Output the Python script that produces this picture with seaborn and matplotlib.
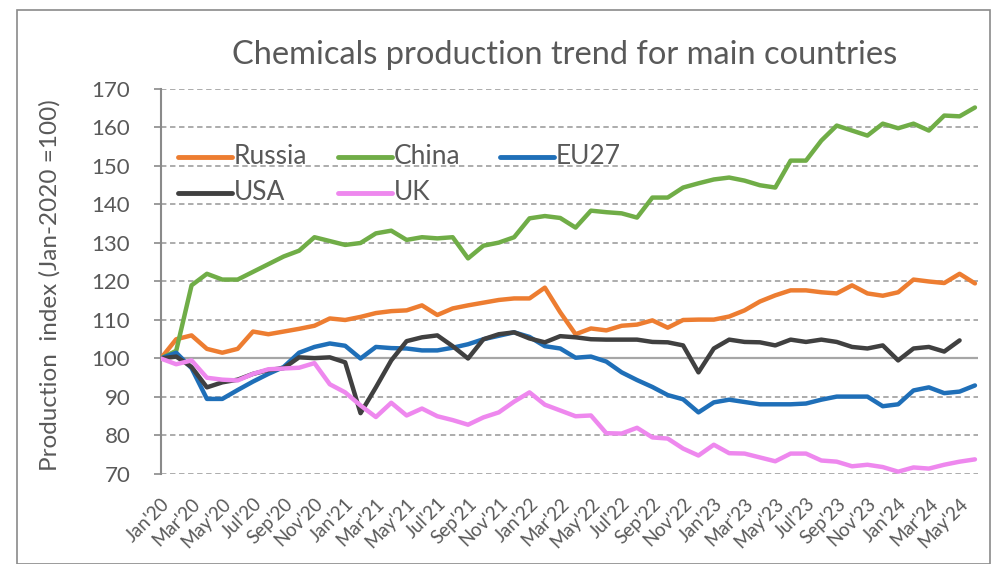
import numpy as np
import pandas as pd
import matplotlib
matplotlib.use("Agg")
import matplotlib.pyplot as plt
import seaborn as sns
from matplotlib.lines import Line2D
from matplotlib.patches import Rectangle

months = ["Jan'20","Feb'20","Mar'20","Apr'20","May'20","Jun'20","Jul'20","Aug'20","Sep'20","Oct'20","Nov'20","Dec'20",
          "Jan'21","Feb'21","Mar'21","Apr'21","May'21","Jun'21","Jul'21","Aug'21","Sep'21","Oct'21","Nov'21","Dec'21",
          "Jan'22","Feb'22","Mar'22","Apr'22","May'22","Jun'22","Jul'22","Aug'22","Sep'22","Oct'22","Nov'22","Dec'22",
          "Jan'23","Feb'23","Mar'23","Apr'23","May'23","Jun'23","Jul'23","Aug'23","Sep'23","Oct'23","Nov'23","Dec'23",
          "Jan'24","Feb'24","Mar'24","Apr'24","May'24","Jun'24"]

russia = [100, 105, 106, 102.5, 101.5, 102.5, 107, 106.3, 107, 107.7, 108.5, 110.4,
          110, 110.8, 111.8, 112.3, 112.5, 113.8, 111.3, 113, 113.8, 114.5, 115.2, 115.6,
          115.6, 118.4, 112, 106.3, 107.8, 107.3, 108.5, 108.8, 109.9, 108, 110, 110.1,
          110.1, 110.9, 112.5, 114.8, 116.4, 117.7, 117.7, 117.2, 116.9, 119, 116.9, 116.3,
          117.2, 120.5, 120, 119.6, 122, 119.5]
china = [100, 102, 119, 122, 120.5, 120.5, 122.5, 124.5, 126.5, 128, 131.5, 130.5,
         129.5, 130, 132.5, 133.2, 130.8, 131.5, 131.2, 131.5, 126, 129.3, 130.1, 131.5,
         136.4, 137, 136.5, 134, 138.4, 138, 137.7, 136.6, 141.8, 141.8, 144.4, 145.5,
         146.5, 147, 146.2, 145, 144.4, 151.4, 151.4, 156.6, 160.5, 159.2, 157.9, 161,
         159.8, 161, 159.2, 163.1, 162.9, 165.2]
eu27 = [100, 101.5, 97.5, 89.5, 89.5, 91.8, 94, 96, 97.8, 101.5, 103, 103.9,
        103.3, 100, 103, 102.7, 102.6, 102.1, 102.1, 102.8, 103.7, 105, 105.9, 106.8,
        105.6, 103.2, 102.6, 100.2, 100.5, 99.2, 96.4, 94.4, 92.6, 90.5, 89.4, 86,
        88.6, 89.3, 88.7, 88.1, 88.1, 88.1, 88.3, 89.3, 90.1, 90.1, 90.1, 87.6,
        88.1, 91.7, 92.5, 91, 91.4, 93]
usa = [100, 100.5, 97.8, 92.5, 93.8, 94.5, 96, 97, 97.5, 100.3, 100.1, 100.3,
       99, 85.8, 92.5, 99.5, 104.5, 105.5, 106, 103.2, 100, 105, 106.3, 106.8,
       105.2, 104.2, 105.8, 105.5, 105, 104.9, 104.9, 104.9, 104.3, 104.2, 103.4, 96.4,
       102.6, 104.9, 104.3, 104.2, 103.4, 104.9, 104.3, 104.9, 104.3, 103, 102.6, 103.4,
       99.5, 102.6, 103, 101.8, 104.7, np.nan]
uk = [100, 98.5, 99.5, 95, 94.5, 94.3, 96, 97.2, 97.4, 97.6, 98.8, 93.3,
      91.2, 87.8, 84.8, 88.5, 85.2, 87, 85, 84, 82.8, 84.7, 86, 88.8,
      91.2, 88, 86.5, 85, 85.2, 80.6, 80.5, 82, 79.5, 79.2, 76.6, 74.8,
      77.6, 75.4, 75.3, 74.3, 73.3, 75.3, 75.3, 73.5, 73.2, 72, 72.4, 71.8,
      70.6, 71.7, 71.4, 72.4, 73.2, 73.8]

countries = ["Russia", "China", "EU27", "USA", "UK"]
series = [russia, china, eu27, usa, uk]
colors = {"Russia": "#ED7D31", "China": "#70AD47", "EU27": "#1F6FB8",
          "USA": "#404040", "UK": "#EE88EE"}

rows = []
for name, vals in zip(countries, series):
    for i, v in enumerate(vals):
        rows.append({"idx": i, "value": v, "country": name})
df = pd.DataFrame(rows)

sns.set_style("white")
plt.rcParams["font.family"] = ["Lato", "DejaVu Sans"]
txt = "#595959"

W, H = 999, 564
fig = plt.figure(figsize=(W/100, H/100), dpi=100)
fig.patches.append(Rectangle((17/W, 0), (990-17)/W, 1-10/H, transform=fig.transFigure,
                             fill=False, edgecolor="#8a8a8a", linewidth=1.2))
ax = fig.add_axes([0.161, 0.1596, 0.818, 0.6826])

# gridlines
for yv in range(70, 180, 10):
    if yv == 100:
        ax.axhline(yv, color="#a6a6a6", lw=1.6, zorder=0)
    else:
        ax.axhline(yv, color="#a6a6a6", lw=1.3, ls=(0, (3, 2)), zorder=0)

sns.lineplot(data=df, x="idx", y="value", hue="country", hue_order=countries,
             palette=colors, linewidth=3.2, legend=False, ax=ax, zorder=3)

ax.set_xlim(0, 53.2)
ax.set_ylim(70, 170)
ax.set_yticks(range(70, 171, 10))
ax.set_yticklabels([str(v) for v in range(70, 171, 10)], fontsize=16, color=txt)
ticks = list(range(0, 53, 2))
ax.set_xticks(ticks)
ax.set_xticklabels([months[i] for i in ticks], rotation=45, ha="right",
                   rotation_mode="anchor", fontsize=13.5, color=txt)
ax.tick_params(axis="x", length=0, pad=15)
ax.tick_params(axis="y", length=5, width=1.2, color="#8a8a8a", direction="out", pad=17, left=True)
for s in ["top", "right", "bottom"]:
    ax.spines[s].set_visible(False)
ax.spines["left"].set_color("#8a8a8a")
ax.spines["left"].set_linewidth(1.5)
ax.set_xlabel("")
ax.set_ylabel("")

fig.text(0.565, 1 - 55/H, "Chemicals production trend for main countries",
         ha="center", va="center", fontsize=23.5, color=txt)
fig.text(50/W, 1 - 285/H, "Production  index (Jan-2020 =100)", rotation=90,
         ha="center", va="center", fontsize=17.5, color=txt)

# legend (manual placement, like the Excel legend)
leg_entries = [("Russia", 178, 157), ("China", 338, 157), ("EU27", 500, 157),
               ("USA", 178, 193), ("UK", 338, 193)]
for name, x0, y0 in leg_entries:
    fig.add_artist(Line2D([x0/W, (x0+54)/W], [1-y0/H, 1-y0/H], transform=fig.transFigure,
                          color=colors[name], lw=3.5, solid_capstyle="round"))
    fig.text((x0+56)/W, 1-y0/H, name, ha="left", va="center", fontsize=19, color=txt)

fig.savefig("out.png", dpi=100)
